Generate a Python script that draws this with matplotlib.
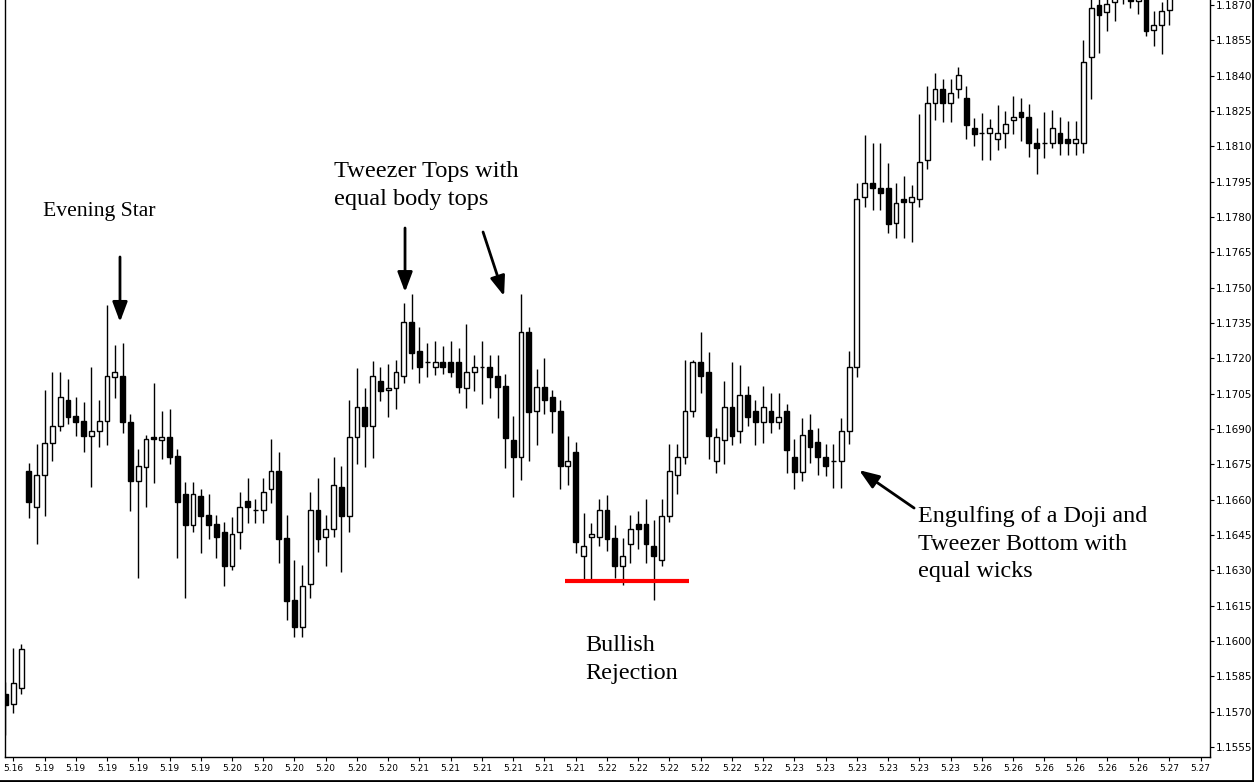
import matplotlib
matplotlib.use("Agg")
import matplotlib.pyplot as plt
import numpy as np

# EURUSD candles (index 0 = leftmost candle)
opens = [1.15774, 1.15732, 1.15800, 1.16721, 1.16568, 1.16704, 1.16840, 1.16912, 1.17023, 1.16955,
         1.16933, 1.16870, 1.16891, 1.16933, 1.17120, 1.17125, 1.16929, 1.16679, 1.16738, 1.16866,
         1.16853, 1.16866, 1.16785, 1.16623, 1.16492, 1.16615, 1.16534, 1.16496, 1.16462, 1.16318,
         1.16462, 1.16594, 1.16556, 1.16556, 1.16645, 1.16721, 1.16437, 1.16173, 1.16059, 1.16241,
         1.16556, 1.16441, 1.16475, 1.16653, 1.16530, 1.16866, 1.16993, 1.16912, 1.17103, 1.17065,
         1.17074, 1.17125, 1.17354, 1.17231, 1.17184, 1.17163, 1.17184, 1.17184, 1.17184, 1.17074,
         1.17142, 1.17163, 1.17163, 1.17125, 1.17082, 1.16853, 1.16781, 1.17311, 1.16976, 1.17078,
         1.17035, 1.16976, 1.16742, 1.16802, 1.16360, 1.16441, 1.16441, 1.16556, 1.16437, 1.16318,
         1.16411, 1.16496, 1.16496, 1.16403, 1.16343, 1.16530, 1.16704, 1.16781, 1.16976, 1.17184,
         1.17142, 1.16764, 1.16853, 1.16993, 1.16891, 1.17044, 1.16976, 1.16929, 1.16976, 1.16929,
         1.16976, 1.16781, 1.16717, 1.16895, 1.16844, 1.16781, 1.16764, 1.16764, 1.16891, 1.17163,
         1.17885, 1.17944, 1.17923, 1.17923, 1.17774, 1.17876, 1.17863, 1.17876, 1.18042, 1.18284,
         1.18343, 1.18284, 1.18343, 1.18305, 1.18178, 1.18156, 1.18156, 1.18131, 1.18156, 1.18212,
         1.18245, 1.18224, 1.18114, 1.18114, 1.18114, 1.18156, 1.18131, 1.18114, 1.18114, 1.18479,
         1.18700, 1.18670, 1.18713, 1.18738, 1.18746, 1.18717, 1.18729, 1.18594, 1.18615, 1.18679]
highs = [1.15825, 1.15970, 1.15987, 1.16755, 1.16836, 1.17065, 1.17142, 1.17142, 1.17112, 1.17035,
         1.17014, 1.17163, 1.17023, 1.17426, 1.17256, 1.17265, 1.16963, 1.16815, 1.16874, 1.17095,
         1.16976, 1.16984, 1.16815, 1.16674, 1.16674, 1.16645, 1.16623, 1.16534, 1.16505, 1.16526,
         1.16632, 1.16691, 1.16602, 1.16691, 1.16857, 1.16802, 1.16534, 1.16343, 1.16322, 1.16632,
         1.16691, 1.16534, 1.16781, 1.16742, 1.17023, 1.17159, 1.17074, 1.17188, 1.17163, 1.17176,
         1.17192, 1.17435, 1.17473, 1.17333, 1.17265, 1.17273, 1.17252, 1.17273, 1.17243, 1.17345,
         1.17214, 1.17273, 1.17214, 1.17214, 1.17133, 1.16955, 1.17473, 1.17333, 1.17154, 1.17201,
         1.17065, 1.17023, 1.16870, 1.16844, 1.16543, 1.16500, 1.16602, 1.16619, 1.16492, 1.16437,
         1.16534, 1.16551, 1.16602, 1.16513, 1.16602, 1.16836, 1.16836, 1.17192, 1.17192, 1.17311,
         1.17226, 1.16904, 1.17103, 1.17184, 1.17171, 1.17082, 1.17023, 1.17082, 1.17052, 1.17052,
         1.17006, 1.16857, 1.16946, 1.16963, 1.16904, 1.16836, 1.16836, 1.16946, 1.17231, 1.17944,
         1.18148, 1.18114, 1.18114, 1.18029, 1.17944, 1.17974, 1.17936, 1.18237, 1.18356, 1.18411,
         1.18386, 1.18386, 1.18437, 1.18356, 1.18220, 1.18241, 1.18216, 1.18275, 1.18250, 1.18313,
         1.18305, 1.18279, 1.18178, 1.18245, 1.18254, 1.18224, 1.18207, 1.18207, 1.18551, 1.18764,
         1.18755, 1.18746, 1.18772, 1.18780, 1.18772, 1.18764, 1.18755, 1.18674, 1.18713, 1.18764]
lows = [1.15600, 1.15694, 1.15774, 1.16522, 1.16411, 1.16530, 1.16764, 1.16891, 1.16921, 1.16870,
        1.16802, 1.16653, 1.16823, 1.16832, 1.17031, 1.16883, 1.16551, 1.16267, 1.16568, 1.16670,
        1.16772, 1.16751, 1.16352, 1.16182, 1.16462, 1.16373, 1.16432, 1.16352, 1.16233, 1.16301,
        1.16390, 1.16500, 1.16500, 1.16500, 1.16585, 1.16331, 1.16089, 1.16016, 1.16016, 1.16182,
        1.16377, 1.16318, 1.16441, 1.16292, 1.16462, 1.16751, 1.16738, 1.16776, 1.17018, 1.16950,
        1.16984, 1.17095, 1.17154, 1.17095, 1.17120, 1.17129, 1.17133, 1.17120, 1.17052, 1.16989,
        1.17061, 1.17006, 1.17031, 1.16946, 1.16734, 1.16611, 1.16683, 1.16764, 1.16832, 1.16963,
        1.16883, 1.16645, 1.16662, 1.16373, 1.16258, 1.16258, 1.16403, 1.16382, 1.16267, 1.16237,
        1.16331, 1.16390, 1.16331, 1.16173, 1.16318, 1.16505, 1.16623, 1.16751, 1.16950, 1.17052,
        1.16772, 1.16713, 1.16751, 1.16832, 1.16840, 1.16912, 1.16832, 1.16840, 1.16883, 1.16900,
        1.16713, 1.16645, 1.16679, 1.16755, 1.16704, 1.16700, 1.16649, 1.16649, 1.16836, 1.17120,
        1.17842, 1.17829, 1.17829, 1.17732, 1.17711, 1.17711, 1.17694, 1.17842, 1.18003, 1.18212,
        1.18203, 1.18203, 1.18305, 1.18131, 1.18101, 1.18042, 1.18042, 1.18084, 1.18093, 1.18152,
        1.18122, 1.18054, 1.17982, 1.18050, 1.18093, 1.18063, 1.18063, 1.18063, 1.18071, 1.18301,
        1.18496, 1.18589, 1.18632, 1.18704, 1.18687, 1.18662, 1.18568, 1.18526, 1.18492, 1.18615]
closes = [1.15728, 1.15821, 1.15965, 1.16590, 1.16704, 1.16840, 1.16912, 1.17035, 1.16950, 1.16929,
          1.16870, 1.16891, 1.16933, 1.17125, 1.17142, 1.16929, 1.16679, 1.16742, 1.16857, 1.16857,
          1.16866, 1.16781, 1.16590, 1.16492, 1.16623, 1.16530, 1.16492, 1.16441, 1.16318, 1.16454,
          1.16568, 1.16568, 1.16556, 1.16632, 1.16721, 1.16432, 1.16169, 1.16059, 1.16233, 1.16556,
          1.16432, 1.16475, 1.16662, 1.16530, 1.16866, 1.16993, 1.16912, 1.17125, 1.17061, 1.17074,
          1.17142, 1.17354, 1.17222, 1.17163, 1.17184, 1.17184, 1.17163, 1.17142, 1.17078, 1.17142,
          1.17163, 1.17163, 1.17120, 1.17078, 1.16861, 1.16781, 1.17311, 1.16972, 1.17078, 1.17023,
          1.16976, 1.16742, 1.16764, 1.16420, 1.16403, 1.16454, 1.16556, 1.16432, 1.16318, 1.16360,
          1.16475, 1.16475, 1.16411, 1.16360, 1.16530, 1.16721, 1.16781, 1.16976, 1.17184, 1.17125,
          1.16870, 1.16866, 1.16993, 1.16870, 1.17044, 1.16950, 1.16929, 1.16993, 1.16929, 1.16950,
          1.16810, 1.16717, 1.16874, 1.16823, 1.16781, 1.16742, 1.16764, 1.16891, 1.17163, 1.17876,
          1.17944, 1.17923, 1.17902, 1.17770, 1.17859, 1.17863, 1.17885, 1.18033, 1.18284, 1.18343,
          1.18284, 1.18326, 1.18403, 1.18190, 1.18152, 1.18156, 1.18178, 1.18156, 1.18195, 1.18224,
          1.18224, 1.18114, 1.18093, 1.18114, 1.18178, 1.18114, 1.18114, 1.18131, 1.18458, 1.18687,
          1.18657, 1.18704, 1.18738, 1.18755, 1.18717, 1.18738, 1.18589, 1.18615, 1.18674, 1.18738]

date_labels = (["5.16"] + ["5.19"] * 6 + ["5.20"] * 6 + ["5.21"] * 6 + ["5.22"] * 6
               + ["5.23"] * 6 + ["5.26"] * 6 + ["5.27"] * 2)
price_ticks = np.arange(1.1555, 1.18701, 0.0015)
support_level = 1.16254

o = np.array(opens)
c = np.array(closes)
idx = np.arange(len(o))

fig = plt.figure(figsize=(12.54, 7.82), dpi=100)
ax = fig.add_axes([5 / 1254, 25 / 782, 1205 / 1254, 757 / 782])

# wicks then bodies
ax.vlines(idx, lows, highs, color="black", lw=1, zorder=1)
body_col = np.where(c > o, "white", "black")
ax.bar(idx, np.abs(c - o), bottom=np.minimum(o, c), width=0.62,
       color=body_col, edgecolor="black", linewidth=1, zorder=2)

ax.set_xlim(-0.06, 154.2)
ax.set_ylim(1.15507, 1.18721)

# right price scale
ax.yaxis.tick_right()
ax.set_yticks(price_ticks)
ax.set_yticklabels(["%.4f" % v for v in price_ticks])
ax.tick_params(axis="y", labelsize=7.5, length=3, pad=1, width=0.8)
ax.set_xticks(np.arange(1, 1 + 4 * len(date_labels), 4))
ax.set_xticklabels(date_labels)
ax.tick_params(axis="x", labelsize=6.5, length=3, pad=2, width=0.8)
ax.spines["top"].set_visible(False)
for s in ["left", "right", "bottom"]:
    ax.spines[s].set_linewidth(1)

# red support line under the bullish rejection
ax.hlines(support_level, 71.6, 87.5, color="#ff0000", lw=3, zorder=3)

serif = "Liberation Serif"
fs = 17.4
ax.text(4.8, 1.17825, "Evening Star", family=serif, fontsize=15.6, va="center")
ax.text(42.1, 1.17934, "Tweezer Tops with\nequal body tops", family=serif,
        fontsize=17.6, va="center", linespacing=1.4)
ax.text(74.2, 1.15920, "Bullish\nRejection", family=serif, fontsize=fs,
        va="center", linespacing=1.45)
ax.text(116.8, 1.16410, "Engulfing of a Doji and\nTweezer Bottom with\nequal wicks",
        family=serif, fontsize=fs, va="center", linespacing=1.4)

arrow = dict(arrowstyle="-|>,head_length=0.8,head_width=0.3", color="black",
             lw=2, mutation_scale=15, shrinkA=0, shrinkB=0)
ax.annotate("", xy=(14.66, 1.17354), xytext=(14.66, 1.17630), arrowprops=arrow)
ax.annotate("", xy=(51.15, 1.17481), xytext=(51.15, 1.17753), arrowprops=arrow)
ax.annotate("", xy=(63.83, 1.17464), xytext=(61.14, 1.17736), arrowprops=arrow)
ax.annotate("", xy=(109.28, 1.16725), xytext=(116.32, 1.16564), arrowprops=arrow)

# dark window frame along the bottom and right edge
fig.add_artist(plt.Line2D([0, 1], [0.0015, 0.0015], color="black", lw=2))
fig.add_artist(plt.Line2D([0.9992, 0.9992], [0, 1], color="black", lw=2))

fig.savefig("out.png", dpi=100)
